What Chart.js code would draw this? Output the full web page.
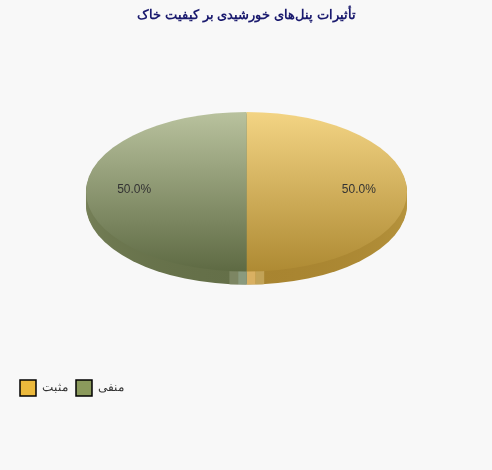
<!DOCTYPE html>
<html lang="fa">
<head>
<meta charset="utf-8">
<title>Chart</title>
<script src="https://cdn.jsdelivr.net/npm/chart.js@4"></script>
<style>
  html, body { margin: 0; padding: 0; background: #f8f8f8; }
  #wrap { width: 492px; height: 470px; }
</style>
</head>
<body>
<div id="wrap"><canvas id="pieChart"></canvas></div>
<script>
const chartTitle = 'تأثیرات پنل‌های خورشیدی بر کیفیت خاک';
const categories = ['مثبت', 'منفی'];
const values = [50, 50];
const valueLabels = ['50.0%', '50.0%'];
const legendColors = ['#ecb93c', '#8b9a5c'];
const faceTopColors = ['#f3d484', '#b9c29e'];
const faceBottomColors = ['#ae8a33', '#5e6a43'];
const sideTopColors = ['#b8963f', '#78825a'];
const sideBottomColors = ['#a88430', '#646f48'];
const glintColors = ['#c2a357', '#d9b062', '#8a9a7e', '#7d8663'];

const FONT = '"Liberation Sans", "Noto Sans", sans-serif';
const TILT = 0.497;     // squash of the round pie into the tilted ellipse
const FACE_Y = 191.8;   // centre of the top face on the canvas
const DEPTH = 13;       // height of the rim in pixels

function faceGradient(context) {
  const { chart, dataIndex } = context;
  if (!chart.chartArea || dataIndex === undefined) return legendColors[dataIndex || 0];
  const cy = (chart.chartArea.top + chart.chartArea.bottom) / 2;
  const r = context.dataset.radius;
  const g = chart.ctx.createLinearGradient(0, cy - r, 0, cy + r);
  g.addColorStop(0, faceTopColors[dataIndex]);
  g.addColorStop(1, faceBottomColors[dataIndex]);
  return g;
}

// Puts the canvas into the squashed space of the pie
function tiltTo(ctx, arc, y) {
  ctx.translate(arc.x, y);
  ctx.scale(1, TILT);
  ctx.translate(-arc.x, -arc.y);
}

function sectorPath(ctx, arc) {
  ctx.beginPath();
  ctx.moveTo(arc.x, arc.y);
  ctx.arc(arc.x, arc.y, arc.outerRadius, arc.startAngle, arc.endAngle);
  ctx.closePath();
}

const tiltedPie = {
  id: 'tiltedPie',
  beforeDatasetsDraw(chart) {
    const ctx = chart.ctx;
    const arcs = chart.getDatasetMeta(0).data;

    // rim, stacked from the bottom up
    arcs.forEach((arc, i) => {
      for (let d = DEPTH; d > 0; d--) {
        ctx.save();
        tiltTo(ctx, arc, FACE_Y + d);
        const grad = ctx.createLinearGradient(0, arc.y, 0, arc.y + arc.outerRadius);
        grad.addColorStop(0, sideTopColors[i]);
        grad.addColorStop(1, sideBottomColors[i]);
        ctx.fillStyle = grad;
        sectorPath(ctx, arc);
        ctx.fill();
        ctx.restore();
      }
    });

    // small glossy patch on the front of the rim
    const arc = arcs[0];
    ctx.save();
    ctx.beginPath();
    ctx.ellipse(arc.x, FACE_Y + DEPTH, arc.outerRadius, arc.outerRadius * TILT, 0, 0, Math.PI);
    ctx.lineTo(arc.x - arc.outerRadius, FACE_Y);
    ctx.lineTo(arc.x + arc.outerRadius, FACE_Y);
    ctx.closePath();
    ctx.clip();
    glintColors.forEach((c, i) => {
      ctx.fillStyle = c;
      ctx.fillRect(arc.x + 9 - (i * 8.7), FACE_Y + 79, 8.7, 15);
    });
    ctx.restore();

    ctx.save();
    tiltTo(ctx, arc, FACE_Y);
  },
  afterDatasetsDraw(chart) {
    const ctx = chart.ctx;
    ctx.restore();

    // percent labels sit at 70% of the radius on each slice
    const arcs = chart.getDatasetMeta(0).data;
    ctx.save();
    ctx.font = '12px ' + FONT;
    ctx.fillStyle = '#333333';
    ctx.textAlign = 'center';
    ctx.textBaseline = 'middle';
    arcs.forEach((arc, i) => {
      const mid = (arc.startAngle + arc.endAngle) / 2;
      const x = arc.x + Math.cos(mid) * arc.outerRadius * 0.7;
      const y = FACE_Y - 2 + Math.sin(mid) * arc.outerRadius * 0.7 * TILT;
      ctx.fillText(valueLabels[i], x, y);
    });
    ctx.restore();
  }
};

new Chart(document.getElementById('pieChart').getContext('2d'), {
  type: 'pie',
  data: {
    labels: categories,
    datasets: [{
      data: values,
      radius: 160.5,
      borderWidth: 0,
      backgroundColor: faceGradient
    }]
  },
  plugins: [tiltedPie],
  options: {
    responsive: true,
    maintainAspectRatio: false,
    animation: false,
    layout: { padding: { left: 12, right: 11, top: 0, bottom: 64 } },
    plugins: {
      tooltip: { enabled: false },
      title: {
        display: true,
        text: chartTitle,
        color: '#1a1a6e',
        font: { family: FONT, size: 13, weight: 'bold' },
        padding: { top: 8, bottom: 8 }
      },
      legend: {
        position: 'bottom',
        align: 'start',
        labels: {
          boxWidth: 16,
          boxHeight: 16,
          padding: 8,
          color: '#333333',
          font: { family: FONT, size: 12 },
          generateLabels: () => categories.map((text, i) => ({
            text,
            index: i,
            fillStyle: legendColors[i],
            strokeStyle: '#000000',
            lineWidth: 1.5,
            fontColor: '#333333'
          }))
        }
      }
    }
  }
});
</script>
</body>
</html>
